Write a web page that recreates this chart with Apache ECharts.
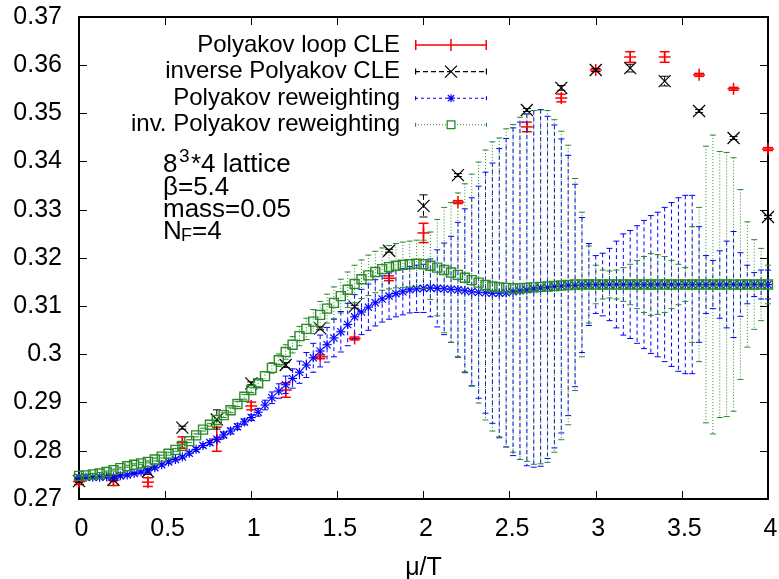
<!DOCTYPE html>
<html><head><meta charset="utf-8">
<script src="https://cdn.jsdelivr.net/npm/echarts@6/dist/echarts.min.js"></script>
<style>html,body{margin:0;padding:0;background:#fff}#c{width:779px;height:579px}</style>
</head><body><div id="c"></div>
<script>
const FONT = '"Liberation Sans", Arial, Helvetica, sans-serif';

// ---- CLE data (mu/T = 0 .. 4 step 0.2; 2.4 not shown) ----
const cleMu = [0, 0.2, 0.4, 0.6, 0.8, 1.0, 1.2, 1.4, 1.6, 1.8, 2.0, 2.2, 2.4, 2.6, 2.8, 3.0, 3.2, 3.4, 3.6, 3.8, 4.0];
const polyCLE    = [0.2736, 0.2739, 0.2735, 0.2817, 0.2824, 0.2893, 0.2926, 0.2995, 0.3033, 0.3158, 0.3252, 0.3316, null, 0.3472, 0.3532, 0.3590, 0.3617, 0.3617, 0.3580, 0.3551, 0.3426];
const polyCLEErr = [0.0006, 0.0011, 0.0009, 0.0012, 0.0025, 0.0008, 0.0015, 0.0004, 0.0003, 0.0005, 0.0020, 0.0003, null, 0.0010, 0.0008, 0.0003, 0.0011, 0.0011, 0.0003, 0.0003, 0.0003];
const invCLE     = [0.2737, 0.2740, 0.2757, 0.2848, 0.2865, 0.2940, 0.2978, 0.3054, 0.3099, 0.3215, 0.3308, 0.3372, null, 0.3507, 0.3553, 0.3590, 0.3594, 0.3567, 0.3505, 0.3449, 0.3285];
const invCLEErr  = [0.0003, 0.0003, 0.0006, 0.0003, 0.0020, 0.0003, 0.0005, 0.0003, 0.0003, 0.0003, 0.0023, 0.0003, null, 0.0003, 0.0005, 0.0003, 0.0008, 0.0010, 0.0003, 0.0003, 0.0003];

// ---- Reweighting data (mu/T step 0.04) ----
const rwMu = [0,0.04,0.08,0.12,0.16,0.2,0.24,0.28,0.32,0.36,0.4,0.44,0.48,0.52,0.56,0.6,0.64,0.68,0.72,0.76,0.8,0.84,0.88,0.92,0.96,1,1.04,1.08,1.12,1.16,1.2,1.24,1.28,1.32,1.36,1.4,1.44,1.48,1.52,1.56,1.6,1.64,1.68,1.72,1.76,1.8,1.84,1.88,1.92,1.96,2,2.04,2.08,2.12,2.16,2.2,2.24,2.28,2.32,2.36,2.4,2.44,2.48,2.52,2.56,2.6,2.64,2.68,2.72,2.76,2.8,2.84,2.88,2.92,2.96,3,3.04,3.08,3.12,3.16,3.2,3.24,3.28,3.32,3.36,3.4,3.44,3.48,3.52,3.56,3.6,3.64,3.68,3.72,3.76,3.8,3.84,3.88,3.92,3.96,4];
const polyRW = [
 0.2745,0.2745,0.2745,0.2745,0.2746,0.2746,0.2748,0.2750,0.2753,0.2756,
 0.2760,0.2765,0.2771,0.2777,0.2782,0.2787,0.2795,0.2803,0.2811,0.2817,
 0.2824,0.2833,0.2841,0.2850,0.2860,0.2869,0.2880,0.2895,0.2910,0.2924,
 0.2937,0.2950,0.2963,0.2978,0.2993,0.3007,0.3020,0.3034,0.3047,0.3062,
 0.3078,0.3088,0.3098,0.3107,0.3115,0.3121,0.3126,0.3130,0.3134,0.3136,
 0.3137,0.3138,0.3137,0.3136,0.3135,0.3134,0.3132,0.3130,0.3129,0.3128,
 0.3127,0.3127,0.3128,0.3130,0.3132,0.3134,0.3136,0.3138,0.3139,0.3141,
 0.3142,0.3143,0.3143,0.3144,0.3145,0.3145,0.3145,0.3145,0.3145,0.3145,
 0.3145,0.3145,0.3145,0.3145,0.3145,0.3145,0.3145,0.3145,0.3145,0.3145,
 0.3145,0.3145,0.3145,0.3145,0.3145,0.3145,0.3145,0.3145,0.3145,0.3145,0.3145];
const polyRWErr = [
 0.0002,0.0002,0.0002,0.0002,0.0002,0.0002,0.0002,0.0002,0.0002,0.0002,
 0.0002,0.0003,0.0003,0.0003,0.0003,0.0003,0.0004,0.0004,0.0004,0.0004,
 0.0004,0.0006,0.0006,0.0006,0.0006,0.0006,0.0008,0.0010,0.0012,0.0015,
 0.0018,0.0020,0.0023,0.0026,0.0030,0.0033,0.0036,0.0039,0.0042,0.0044,
 0.0046,0.0047,0.0048,0.0048,0.0048,0.0048,0.0048,0.0048,0.0048,0.0049,
 0.0050,0.0060,0.0080,0.0095,0.0110,0.0140,0.0170,0.0195,0.0220,0.0250,
 0.0270,0.0300,0.0320,0.0340,0.0350,0.0365,0.0370,0.0370,0.0355,0.0335,
 0.0305,0.0270,0.0210,0.0140,0.0085,0.0060,0.0065,0.0075,0.0090,0.0105,
 0.0112,0.0122,0.0133,0.0143,0.0150,0.0160,0.0170,0.0180,0.0185,0.0185,
 0.0120,0.0060,0.0050,0.0070,0.0090,0.0110,0.0066,0.0040,0.0025,0.0030,0.0030];
const invRW = [
 0.2748,0.2749,0.2751,0.2753,0.2756,0.2760,0.2764,0.2768,0.2771,0.2774,
 0.2777,0.2782,0.2788,0.2794,0.2802,0.2810,0.2820,0.2832,0.2844,0.2854,
 0.2864,0.2874,0.2884,0.2897,0.2912,0.2926,0.2940,0.2955,0.2972,0.2988,
 0.3005,0.3020,0.3038,0.3053,0.3068,0.3082,0.3095,0.3107,0.3121,0.3134,
 0.3146,0.3156,0.3164,0.3171,0.3177,0.3181,0.3184,0.3186,0.3187,0.3188,
 0.3187,0.3184,0.3180,0.3175,0.3170,0.3165,0.3159,0.3154,0.3149,0.3144,
 0.3141,0.3139,0.3138,0.3137,0.3137,0.3138,0.3139,0.3140,0.3141,0.3142,
 0.3143,0.3144,0.3145,0.3145,0.3145,0.3145,0.3145,0.3145,0.3145,0.3145,
 0.3145,0.3145,0.3145,0.3145,0.3145,0.3145,0.3145,0.3145,0.3145,0.3145,
 0.3145,0.3145,0.3145,0.3145,0.3145,0.3145,0.3145,0.3145,0.3145,0.3145,0.3145];
const invRWErr = [
 0.0002,0.0002,0.0002,0.0002,0.0002,0.0002,0.0002,0.0002,0.0002,0.0002,
 0.0002,0.0003,0.0003,0.0003,0.0003,0.0003,0.0003,0.0003,0.0003,0.0003,
 0.0003,0.0005,0.0005,0.0005,0.0005,0.0005,0.0007,0.0009,0.0011,0.0013,
 0.0015,0.0017,0.0020,0.0022,0.0025,0.0028,0.0030,0.0033,0.0035,0.0037,
 0.0039,0.0040,0.0042,0.0043,0.0044,0.0045,0.0046,0.0047,0.0048,0.0049,
 0.0050,0.0070,0.0100,0.0130,0.0145,0.0170,0.0195,0.0220,0.0250,0.0280,
 0.0300,0.0310,0.0330,0.0340,0.0355,0.0360,0.0367,0.0367,0.0365,0.0345,
 0.0320,0.0290,0.0220,0.0150,0.0080,0.0040,0.0030,0.0028,0.0030,0.0035,
 0.0042,0.0050,0.0058,0.0064,0.0062,0.0058,0.0050,0.0042,0.0035,0.0120,
 0.0160,0.0287,0.0310,0.0276,0.0274,0.0263,0.0197,0.0130,0.0093,0.0075,0.0040];

const seriesNames = ['Polyakov loop CLE', 'inverse Polyakov CLE', 'Polyakov reweighting', 'inv. Polyakov reweighting'];
const annotationParts = ['8', '3', '*4 lattice', 'β=5.4', 'mass=0.05', 'N', 'F', '=4'];

// ---- styles ----
const ST = [
  {color:'#ff0000', marker:'plus',   size:6,   markWidth:1.5, barWidth:1.5, cap:5, dash:null},
  {color:'#000000', marker:'cross',  size:6,   markWidth:1.2, barWidth:1.0, cap:4, dash:[5,3]},
  {color:'#0000ff', marker:'star',   size:4.5, markWidth:1.2, barWidth:1.0, cap:3, dash:[4,3]},
  {color:'#2a8a2a', marker:'square', size:4.5, markWidth:1.4, barWidth:1.0, cap:3, dash:[1,2]}
];

function buildData(mu, val, err) {
  const d = [];
  for (let i = 0; i < mu.length; i++) { if (val[i] == null) continue; d.push([mu[i], val[i], err[i]]); }
  return d;
}
function renderer(st) {
  return function (params, api) {
    const x = api.value(0), y = api.value(1), e = api.value(2);
    const c = api.coord([x, y]), t = api.coord([x, y + e]), b = api.coord([x, y - e]);
    const ch = [];
    const bar = {stroke: st.color, lineWidth: st.barWidth, lineDash: st.dash, fill: 'none'};
    const solid = {stroke: st.color, lineWidth: st.barWidth, fill: 'none'};
    ch.push({type:'line', shape:{x1:c[0], y1:t[1], x2:c[0], y2:b[1]}, style: bar});
    ch.push({type:'line', shape:{x1:c[0]-st.cap, y1:t[1], x2:c[0]+st.cap, y2:t[1]}, style: solid});
    ch.push({type:'line', shape:{x1:c[0]-st.cap, y1:b[1], x2:c[0]+st.cap, y2:b[1]}, style: solid});
    const s = st.size, ms = {stroke: st.color, lineWidth: st.markWidth, fill: 'none'};
    if (st.marker === 'plus' || st.marker === 'star') {
      ch.push({type:'line', shape:{x1:c[0]-s, y1:c[1], x2:c[0]+s, y2:c[1]}, style: ms});
      ch.push({type:'line', shape:{x1:c[0], y1:c[1]-s, x2:c[0], y2:c[1]+s}, style: ms});
    }
    if (st.marker === 'cross' || st.marker === 'star') {
      const d = st.marker === 'star' ? s * 0.8 : s;
      ch.push({type:'line', shape:{x1:c[0]-d, y1:c[1]-d, x2:c[0]+d, y2:c[1]+d}, style: ms});
      ch.push({type:'line', shape:{x1:c[0]-d, y1:c[1]+d, x2:c[0]+d, y2:c[1]-d}, style: ms});
    }
    if (st.marker === 'square') {
      ch.push({type:'rect', shape:{x:c[0]-s, y:c[1]-s, width:2*s, height:2*s}, style: ms});
    }
    return {type:'group', children: ch};
  };
}

// ---- legend icon paths (72 x 14 box) ----
function hseg(x1, x2, y, t) { return 'M' + x1 + ' ' + (y - t/2) + 'H' + x2 + 'V' + (y + t/2) + 'H' + x1 + 'Z'; }
function vseg(x, y1, y2, t) { return 'M' + (x - t/2) + ' ' + y1 + 'H' + (x + t/2) + 'V' + y2 + 'H' + (x - t/2) + 'Z'; }
function dashedH(x1, x2, y, t, dash, gap, skipA, skipB) {
  let s = '';
  for (let x = x1; x < x2; x += dash + gap) {
    const e = Math.min(x + dash, x2);
    if (skipA != null && e > skipA && x < skipB) continue;
    s += hseg(x, e, y, t);
  }
  return s;
}
function diag(x1, y1, x2, y2, t) {
  const dx = x2 - x1, dy = y2 - y1, L = Math.hypot(dx, dy);
  const nx = dy / L * t / 2, ny = -dx / L * t / 2;
  return 'M' + (x1+nx) + ' ' + (y1+ny) + 'L' + (x2+nx) + ' ' + (y2+ny) + 'L' + (x2-nx) + ' ' + (y2-ny) + 'L' + (x1-nx) + ' ' + (y1-ny) + 'Z';
}
const W = 72, CY = 7;
const iconRed = 'path://' + hseg(0, W, CY, 1.5) + vseg(0.75, 2, 12, 1.5) + vseg(W-0.75, 2, 12, 1.5) + vseg(36, 1, 13, 1.5);
const iconBlack = 'path://' + dashedH(0, W, CY, 1.2, 5, 3) + vseg(0.6, 4, 10, 1.2) + vseg(W-0.6, 4, 10, 1.2) + diag(30, 1, 42, 13, 1.3) + diag(30, 13, 42, 1, 1.3);
const iconBlue = 'path://' + dashedH(0, W, CY, 1.1, 3, 3) + vseg(0.6, 5, 9, 1.1) + vseg(W-0.6, 5, 9, 1.1) + hseg(32, 40, CY, 1.2) + vseg(36, 3, 11, 1.2) + diag(32.8, 3.8, 39.2, 10.2, 1.1) + diag(32.8, 10.2, 39.2, 3.8, 1.1);
const iconGreen = 'path://' + dashedH(0, W, CY, 1.1, 1, 2, 31.5, 40.5) + vseg(0.6, 5, 9, 1.1) + vseg(W-0.6, 5, 9, 1.1) +
  'M31.5 2.5H40.5V11.5H31.5Z' + 'M32.8 3.8V10.2H39.2V3.8Z';

function txt(str, x, y, size) {
  return {type: 'text', x: x, y: y, silent: true,
    style: {text: str, fill: '#000', font: size + 'px ' + FONT, align: 'left', verticalAlign: 'middle'}};
}

const chart = echarts.init(document.getElementById('c'), null, {renderer: 'canvas'});
const axisCommon = {
  axisLine: {show: true, onZero: false, lineStyle: {color: '#000', width: 2}},
  axisTick: {show: true, inside: true, length: 8, lineStyle: {color: '#000', width: 1}},
  splitLine: {show: false}
};
const series = [
  [cleMu, polyCLE, polyCLEErr],
  [cleMu, invCLE, invCLEErr],
  [rwMu, polyRW, polyRWErr],
  [rwMu, invRW, invRWErr]
].map(function (arr, k) {
  return {
    type: 'custom', name: seriesNames[k],
    data: buildData(arr[0], arr[1], arr[2]),
    encode: {x: 0, y: 1},
    itemStyle: {color: ST[k].color},
    renderItem: renderer(ST[k]),
    clip: false, z: 2 + k, silent: true, animation: false
  };
});

chart.setOption({
  animation: false,
  backgroundColor: '#fff',
  grid: {left: 79, right: 11, top: 17, bottom: 80, containLabel: false, outerBoundsMode: 'none'},
  xAxis: [
    Object.assign({type: 'value', min: 0, max: 4, interval: 0.5, position: 'bottom',
      name: 'μ/T', nameLocation: 'middle', nameGap: 57,
      nameTextStyle: {fontSize: 25, fontFamily: FONT, color: '#000'},
      axisLabel: {fontSize: 25, fontFamily: FONT, color: '#000', margin: 18, padding: [0, 0, 0, 5]}}, axisCommon),
    Object.assign({type: 'value', min: 0, max: 4, interval: 0.5, position: 'top', axisLabel: {show: false}}, axisCommon)
  ],
  yAxis: [
    Object.assign({type: 'value', min: 0.27, max: 0.37, interval: 0.01, position: 'left',
      axisLabel: {fontSize: 25, fontFamily: FONT, color: '#000', margin: 17}}, axisCommon),
    Object.assign({type: 'value', min: 0.27, max: 0.37, interval: 0.01, position: 'right', axisLabel: {show: false}}, axisCommon)
  ],
  legend: {
    data: [
      {name: seriesNames[0], icon: iconRed},
      {name: seriesNames[1], icon: iconBlack},
      {name: seriesNames[2], icon: iconBlue},
      {name: seriesNames[3], icon: iconGreen}
    ],
    orient: 'vertical', align: 'right', right: 292, top: 33,
    itemWidth: 72, itemHeight: 14, itemGap: 2.6, padding: 0,
    symbolKeepAspect: true, selectedMode: false,
    itemStyle: {borderWidth: 0},
    textStyle: {fontSize: 24, fontFamily: FONT, color: '#000', lineHeight: 24, padding: [0, 10, 0, 0]}
  },
  graphic: [
    txt(annotationParts[0], 163, 165, 26),
    txt(annotationParts[1], 179, 157, 19),
    txt(annotationParts[2], 191, 165, 26),
    txt(annotationParts[3], 163, 187.5, 26),
    txt(annotationParts[4], 163, 210, 26),
    txt(annotationParts[5], 163, 232, 26),
    txt(annotationParts[6], 181, 236, 18),
    txt(annotationParts[7], 192, 232, 26)
  ],
  series: series
});
</script>
</body></html>
